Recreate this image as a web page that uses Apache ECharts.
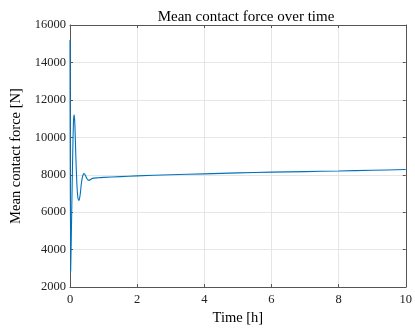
<!DOCTYPE html>
<html>
<head>
<meta charset="utf-8">
<script src="https://cdn.jsdelivr.net/npm/echarts@6/dist/echarts.min.js"></script>
<style>html,body{margin:0;padding:0;background:#fff}#c{width:415px;height:331px}</style>
</head>
<body>
<div id="c"></div>
<script>
const titleText = 'Mean contact force over time';
const xName = 'Time [h]';
const yName = 'Mean contact force [N]';
const timeH = [0, 0.02, 0.05, 0.08, 0.105, 0.125, 0.145, 0.17, 0.2, 0.23, 0.265, 0.3, 0.34, 0.38, 0.42, 0.46, 0.5, 0.54, 0.57, 0.62, 0.7, 0.85, 1, 1.5, 2, 3, 4, 5, 6, 7, 8, 9, 10];
const forceN = [15200, 2840, 5900, 9000, 10900, 11200, 10700, 9200, 7700, 6850, 6630, 6900, 7550, 7950, 8060, 7960, 7800, 7720, 7700, 7760, 7820, 7840, 7860, 7900, 7940, 8000, 8050, 8100, 8140, 8170, 8200, 8240, 8280];
const xTicks = {min: 0, max: 10, interval: 2};
const yTicks = {min: 2000, max: 16000, interval: 2000};

const font = 'Liberation Serif';
const axisCol = '#555';
const chart = echarts.init(document.getElementById('c'), null, {renderer: 'canvas'});
const baseAxis = {
  axisLine: {show: true, onZero: false, lineStyle: {color: axisCol, width: 1}},
  axisTick: {show: true, inside: true, length: 3, lineStyle: {color: axisCol}},
  splitLine: {show: false},
  axisLabel: {show: false}
};
chart.setOption({
  animation: false,
  backgroundColor: '#fff',
  title: {
    text: titleText, left: 241, top: 5, textAlign: 'center',
    textStyle: {fontFamily: font, fontSize: 15, fontWeight: 'normal', color: '#000'}
  },
  grid: {left: 70, right: 4.5, top: 25, bottom: 37.5, containLabel: false},
  xAxis: [
    Object.assign({}, baseAxis, {
      type: 'value', position: 'bottom', ...xTicks,
      name: xName, nameLocation: 'middle', nameGap: 22,
      nameTextStyle: {fontFamily: font, fontSize: 14.5, color: '#000'},
      axisLabel: {show: true, fontFamily: font, fontSize: 12.5, color: '#222', margin: 6,
        formatter: v => String(v)},
      splitLine: {show: true, lineStyle: {color: '#e6e6e6', width: 1}}
    }),
    Object.assign({}, baseAxis, {type: 'value', position: 'top', ...xTicks})
  ],
  yAxis: [
    Object.assign({}, baseAxis, {
      type: 'value', position: 'left', ...yTicks,
      name: yName, nameLocation: 'middle', nameGap: 42,
      nameTextStyle: {fontFamily: font, fontSize: 14.5, color: '#000'},
      axisLabel: {show: true, fontFamily: font, fontSize: 12.5, color: '#222', margin: 4,
        formatter: v => String(v)},
      splitLine: {show: true, lineStyle: {color: '#e6e6e6', width: 1}}
    }),
    Object.assign({}, baseAxis, {type: 'value', position: 'right', ...yTicks})
  ],
  series: [{
    type: 'line',
    data: timeH.map((t, i) => [t, forceN[i]]),
    showSymbol: false,
    smooth: 0.3,
    lineStyle: {color: '#0072BD', width: 1.1},
    clip: true
  }]
});
</script>
</body>
</html>
